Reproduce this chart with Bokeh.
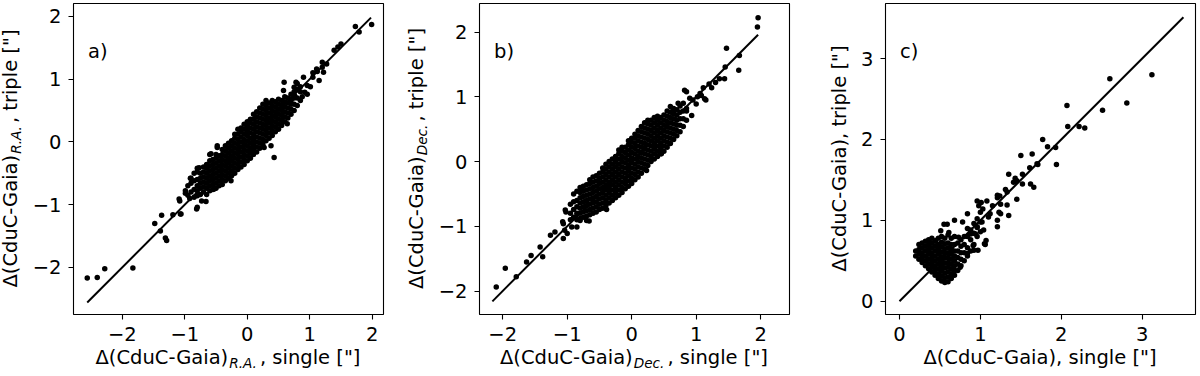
from bokeh.plotting import figure
from bokeh.models import Range1d, FixedTicker, Label, Div, Spacer
from bokeh.layouts import row, column
from bokeh.embed import file_html
from bokeh.resources import INLINE

# ---------------- data ----------------
ticks_ab = [-2, -1, 0, 1, 2]
ticks_c = [0, 1, 2, 3]
tick_labels_ab = ["\u22122", "\u22121", "0", "1", "2"]
tick_labels_c = ["0", "1", "2", "3"]

# panel a) R.A. : one-to-one line extent
ra_line = [-2.56, 1.98]
# panel a) scattered points (single, triple)
ra_outer = [(-2.56, -2.17), (-2.40, -2.16), (-2.28, -2.02), (-1.83, -2.01), (-1.48, -1.30),
            (-1.37, -1.17), (-1.39, -1.42), (-1.31, -1.53), (-1.29, -1.57), (-1.19, -1.16),
            (-1.06, -1.15), (-1.08, -0.94), (-0.99, -0.82), (-0.92, -0.90), (-0.81, -1.07),
            (-0.66, -0.95), (-0.73, -0.94), (-0.91, -0.58), (-0.60, -0.20), (-0.48, -0.09),
            (-0.26, -0.62), (0.27, -0.09), (0.43, -0.25), (0.58, 0.82), (0.59, 0.95),
            (0.78, 0.95), (0.90, 1.03), (0.92, 0.79), (1.01, 0.88), (1.05, 1.03), (1.11, 1.16),
            (1.20, 1.27), (1.20, 1.19), (1.22, 1.11), (1.15, 0.98), (1.39, 1.46), (1.45, 1.51),
            (1.50, 1.56), (1.73, 1.84), (1.79, 1.75), (1.99, 1.87), (0.76, 0.73), (0.70, 0.66),
            (0.80, 0.93), (0.96, 0.76), (0.96, 0.90), (0.08, -0.14), (-0.48, -0.06),
            (-0.58, -0.19), (-0.77, -0.41), (-0.53, -0.75), (-0.80, -1.04), (-1.07, -1.15),
            (-1.09, -0.91), (-0.99, -0.78), (0.64, 0.29), (0.38, -0.06), (1.27, 1.24),
            (1.05, 1.10), (1.12, 1.12), (0.85, 0.88), (0.88, 0.72), (0.75, 0.87)]
# panel a) dense core, column by column
ra_core_x = [-0.95, -0.90, -0.85, -0.80, -0.75, -0.70, -0.65, -0.60, -0.55, -0.50, -0.45,
             -0.40, -0.35, -0.30, -0.25, -0.20, -0.15, -0.10, -0.05, 0.00, 0.05, 0.10, 0.15,
             0.20, 0.25, 0.30, 0.35, 0.40, 0.45, 0.50, 0.55, 0.60, 0.65, 0.70, 0.75, 0.80, 0.85]
ra_core_y = [
    [-0.85, -0.70],
    [-0.80, -0.66, -0.58],
    [-0.88, -0.76, -0.62, -0.50],
    [-0.86, -0.78, -0.70, -0.60, -0.48, -0.42],
    [-0.84, -0.74, -0.66, -0.58, -0.50],
    [-0.80, -0.72, -0.64, -0.56, -0.48, -0.40],
    [-0.84, -0.74, -0.66, -0.58, -0.50, -0.42, -0.36],
    [-0.78, -0.70, -0.62, -0.54, -0.46, -0.38, -0.30],
    [-0.76, -0.68, -0.60, -0.52, -0.44, -0.36, -0.28],
    [-0.74, -0.66, -0.58, -0.50, -0.42, -0.34, -0.26, -0.20],
    [-0.70, -0.62, -0.54, -0.46, -0.38, -0.30, -0.22],
    [-0.68, -0.60, -0.52, -0.44, -0.36, -0.28, -0.20, -0.12],
    [-0.62, -0.54, -0.46, -0.38, -0.30, -0.22, -0.14, -0.06],
    [-0.58, -0.50, -0.42, -0.34, -0.26, -0.18, -0.10, -0.02],
    [-0.54, -0.46, -0.38, -0.30, -0.22, -0.14, -0.06, 0.02],
    [-0.50, -0.42, -0.34, -0.26, -0.18, -0.10, -0.02, 0.06, 0.12],
    [-0.44, -0.36, -0.28, -0.20, -0.12, -0.04, 0.04, 0.12, 0.20],
    [-0.40, -0.32, -0.24, -0.16, -0.08, 0.00, 0.08, 0.16, 0.22],
    [-0.36, -0.28, -0.20, -0.12, -0.04, 0.04, 0.12, 0.20, 0.28],
    [-0.30, -0.22, -0.14, -0.06, 0.02, 0.10, 0.18, 0.26, 0.32],
    [-0.26, -0.18, -0.10, -0.02, 0.06, 0.14, 0.22, 0.30, 0.36],
    [-0.20, -0.12, -0.04, 0.04, 0.12, 0.20, 0.28, 0.36, 0.44],
    [-0.16, -0.08, 0.00, 0.08, 0.16, 0.24, 0.32, 0.40, 0.48],
    [-0.10, -0.02, 0.06, 0.14, 0.22, 0.30, 0.38, 0.46, 0.54],
    [-0.04, 0.04, 0.12, 0.20, 0.28, 0.36, 0.44, 0.52, 0.60],
    [0.02, 0.10, 0.18, 0.26, 0.34, 0.42, 0.50, 0.58, 0.66],
    [0.06, 0.14, 0.22, 0.30, 0.38, 0.46, 0.54, 0.62],
    [0.10, 0.18, 0.26, 0.34, 0.42, 0.50, 0.58, 0.66],
    [0.16, 0.24, 0.32, 0.40, 0.48, 0.56, 0.64],
    [0.20, 0.28, 0.36, 0.44, 0.52, 0.60, 0.68],
    [0.26, 0.34, 0.42, 0.50, 0.58, 0.66],
    [0.32, 0.40, 0.48, 0.56, 0.64, 0.72],
    [0.38, 0.46, 0.54, 0.62, 0.70],
    [0.44, 0.52, 0.60, 0.68, 0.76],
    [0.50, 0.60, 0.70, 0.80],
    [0.58, 0.70, 0.84],
    [0.66, 0.80],
]

# panel b) Dec.
dec_line = [-2.16, 1.96]
dec_outer = [(1.96, 2.22), (1.95, 2.08), (1.47, 1.75), (1.44, 1.28), (1.45, 1.46), (1.66, 1.41),
             (1.67, 1.64), (1.36, 1.28), (1.24, 1.14), (1.11, 1.14), (1.08, 1.02), (0.95, 0.95),
             (1.15, 0.95), (0.82, 1.10), (0.85, 1.08), (0.93, 0.71), (0.85, 0.82), (0.64, 0.79),
             (-2.10, -1.94), (-1.96, -1.65), (-1.79, -1.78), (-1.63, -1.55), (-1.56, -1.45),
             (-1.42, -1.32), (-1.38, -1.47), (-1.26, -1.14), (-1.19, -1.09), (-1.06, -1.19),
             (-1.04, -1.06), (-1.07, -0.93), (-1.02, -0.78), (-0.88, -0.86), (-0.80, -0.91),
             (-0.93, -1.01), (-0.66, -0.92), (-0.39, -0.74), (-0.77, -0.44), (1.06, 1.05),
             (1.13, 0.97), (1.00, 0.89), (0.46, 0.12), (0.23, -0.14), (-0.70, -0.91),
             (-1.03, -0.75), (-1.06, -0.96), (-1.00, -1.11), (-0.85, -1.01), (1.02, 1.00),
             (0.90, 0.98), (1.20, 1.20), (1.30, 1.22), (0.72, 0.90), (0.60, 0.85)]
dec_core_x = [-0.95, -0.90, -0.85, -0.80, -0.75, -0.70, -0.65, -0.60, -0.55, -0.50, -0.45,
              -0.40, -0.35, -0.30, -0.25, -0.20, -0.15, -0.10, -0.05, 0.00, 0.05, 0.10, 0.15,
              0.20, 0.25, 0.30, 0.35, 0.40, 0.45, 0.50, 0.55, 0.60, 0.65, 0.70, 0.75, 0.80, 0.85]
dec_core_y = [
    [-0.90, -0.80, -0.66],
    [-0.86, -0.74, -0.62, -0.50],
    [-0.90, -0.80, -0.70, -0.60, -0.46],
    [-0.88, -0.80, -0.72, -0.64, -0.56, -0.48, -0.40],
    [-0.86, -0.78, -0.70, -0.62, -0.54, -0.46, -0.38],
    [-0.84, -0.76, -0.68, -0.60, -0.52, -0.44, -0.36],
    [-0.82, -0.74, -0.66, -0.58, -0.50, -0.42, -0.34, -0.28],
    [-0.80, -0.72, -0.64, -0.56, -0.48, -0.40, -0.32, -0.24],
    [-0.78, -0.70, -0.62, -0.54, -0.46, -0.38, -0.30, -0.22],
    [-0.74, -0.66, -0.58, -0.50, -0.42, -0.34, -0.26, -0.18],
    [-0.72, -0.64, -0.56, -0.48, -0.40, -0.32, -0.24, -0.16, -0.10],
    [-0.68, -0.60, -0.52, -0.44, -0.36, -0.28, -0.20, -0.12, -0.04],
    [-0.64, -0.56, -0.48, -0.40, -0.32, -0.24, -0.16, -0.08, 0.00],
    [-0.60, -0.52, -0.44, -0.36, -0.28, -0.20, -0.12, -0.04, 0.04],
    [-0.56, -0.48, -0.40, -0.32, -0.24, -0.16, -0.08, 0.00, 0.08],
    [-0.52, -0.44, -0.36, -0.28, -0.20, -0.12, -0.04, 0.04, 0.12, 0.18],
    [-0.48, -0.40, -0.32, -0.24, -0.16, -0.08, 0.00, 0.08, 0.16, 0.22],
    [-0.42, -0.34, -0.26, -0.18, -0.10, -0.02, 0.06, 0.14, 0.22],
    [-0.38, -0.30, -0.22, -0.14, -0.06, 0.02, 0.10, 0.18, 0.26, 0.32],
    [-0.34, -0.26, -0.18, -0.10, -0.02, 0.06, 0.14, 0.22, 0.30, 0.36],
    [-0.28, -0.20, -0.12, -0.04, 0.04, 0.12, 0.20, 0.28, 0.36, 0.42],
    [-0.24, -0.16, -0.08, 0.00, 0.08, 0.16, 0.24, 0.32, 0.40, 0.48],
    [-0.18, -0.10, -0.02, 0.06, 0.14, 0.22, 0.30, 0.38, 0.46, 0.54],
    [-0.12, -0.04, 0.04, 0.12, 0.20, 0.28, 0.36, 0.44, 0.52, 0.60],
    [-0.06, 0.02, 0.10, 0.18, 0.26, 0.34, 0.42, 0.50, 0.58, 0.64],
    [0.00, 0.08, 0.16, 0.24, 0.32, 0.40, 0.48, 0.56, 0.64],
    [0.04, 0.12, 0.20, 0.28, 0.36, 0.44, 0.52, 0.60, 0.68],
    [0.08, 0.16, 0.24, 0.32, 0.40, 0.48, 0.56, 0.64, 0.70],
    [0.12, 0.20, 0.28, 0.36, 0.44, 0.52, 0.60, 0.68],
    [0.16, 0.24, 0.32, 0.40, 0.48, 0.56, 0.64, 0.72],
    [0.22, 0.30, 0.38, 0.46, 0.54, 0.62, 0.70, 0.78],
    [0.28, 0.36, 0.44, 0.52, 0.60, 0.68, 0.76],
    [0.34, 0.42, 0.50, 0.58, 0.66, 0.74, 0.82],
    [0.40, 0.48, 0.56, 0.64, 0.72, 0.80],
    [0.46, 0.56, 0.66, 0.76, 0.86],
    [0.54, 0.66, 0.78, 0.90],
    [0.64, 0.78],
]

# panel c) total offset
tot_line = [0.0, 3.51]
tot_outer = [(3.12, 2.80), (2.60, 2.75), (2.81, 2.45), (2.51, 2.36), (2.29, 2.14), (2.22, 2.16),
             (2.08, 2.16), (2.07, 2.42), (1.94, 1.69), (1.93, 1.90), (1.83, 1.91), (1.77, 2.00),
             (1.71, 1.69), (1.64, 1.82), (1.50, 1.80), (1.61, 1.65), (1.66, 1.41), (1.62, 1.45),
             (1.52, 1.57), (1.45, 1.26), (1.41, 1.47), (1.35, 1.57), (1.43, 1.52), (1.52, 1.45),
             (1.31, 1.38), (1.21, 1.28), (1.24, 1.30), (1.33, 1.19), (1.23, 1.10), (1.35, 1.06),
             (1.21, 0.92), (1.07, 0.75), (1.06, 0.70), (1.04, 0.88), (0.68, 1.00), (0.59, 0.95),
             (0.84, 1.08), (0.96, 1.24), (1.01, 1.22), (0.55, 0.95), (0.45, 0.75), (0.51, 0.87),
             (0.96, 0.91), (0.88, 0.83), (1.02, 0.98), (0.92, 0.63), (0.84, 0.59), (0.75, 0.42),
             (1.08, 1.24), (1.15, 1.18), (1.03, 1.14), (1.12, 1.08), (1.25, 1.20), (0.91, 0.69),
             (0.97, 0.63), (1.05, 0.71), (1.21, 1.00), (1.25, 1.08), (1.45, 1.49), (1.33, 1.35),
             (1.70, 1.70), (1.10, 1.04), (0.98, 1.18), (0.94, 0.83), (0.78, 0.98), (0.61, 0.85),
             (0.73, 0.79), (1.21, 1.31)]
tot_core_x = [0.20, 0.24, 0.28, 0.32, 0.36, 0.40, 0.44, 0.48, 0.52, 0.56, 0.60, 0.64, 0.68,
              0.72, 0.76, 0.80, 0.84, 0.88, 0.92, 0.96, 1.00]
tot_core_y = [
    [0.56, 0.62],
    [0.52, 0.58, 0.64, 0.70],
    [0.48, 0.54, 0.60, 0.66, 0.72],
    [0.44, 0.50, 0.56, 0.62, 0.68, 0.74],
    [0.40, 0.46, 0.52, 0.58, 0.64, 0.70, 0.76],
    [0.36, 0.42, 0.48, 0.54, 0.60, 0.66, 0.72, 0.78],
    [0.32, 0.38, 0.44, 0.50, 0.56, 0.62, 0.68, 0.74],
    [0.28, 0.34, 0.40, 0.46, 0.52, 0.58, 0.64, 0.70, 0.78],
    [0.25, 0.31, 0.37, 0.43, 0.49, 0.55, 0.61, 0.67, 0.73, 0.80],
    [0.23, 0.29, 0.35, 0.41, 0.47, 0.53, 0.59, 0.65, 0.71, 0.78],
    [0.24, 0.30, 0.36, 0.42, 0.48, 0.54, 0.60, 0.66, 0.72, 0.82],
    [0.28, 0.34, 0.40, 0.46, 0.52, 0.58, 0.64, 0.70, 0.78],
    [0.32, 0.38, 0.44, 0.50, 0.56, 0.62, 0.70, 0.80],
    [0.38, 0.46, 0.54, 0.62, 0.72],
    [0.44, 0.52, 0.60, 0.68, 0.76],
    [0.50, 0.60, 0.70, 0.80],
    [0.56, 0.66, 0.80, 0.90],
    [0.62, 0.76, 0.88],
    [0.70, 0.84, 0.96],
    [0.80, 0.92, 1.02],
    [0.86, 0.98, 1.10],
]

# axis-label pieces
label_main = "\u0394(CduC-Gaia)"
sub_a = "R.A."
sub_b = "Dec."
x_rest = ', single ["]'
y_rest = ', triple ["]'

# ---------------- styling ----------------
FONT = "DejaVu Sans"
FS = 19.5      # main text size, px
SFS = 13.65    # subscript size, px
FW, FH = 310, 311
TOP = 3        # frame top offset in page px
BOTTOM = 36    # space below frame inside figure
LH = 16.5      # line-height used for html labels (baseline 15px below line top)
YDW = 24       # width of y-label div


def collect(outer, cx, cy):
    xs = [p[0] for p in outer]
    ys = [p[1] for p in outer]
    for x, col in zip(cx, cy):
        for y in col:
            xs.append(x)
            ys.append(y)
    return xs, ys


def label_html(sub, rest):
    s = label_main
    if sub:
        s += (f'<span style="font-size:{SFS}px;font-style:italic;position:relative;'
              f'top:4px;margin-left:1px;margin-right:3px">{sub}</span>')
    return s + rest


TXT = (f"font-family:'{FONT}';font-size:{FS}px;color:#000;white-space:nowrap;"
       f"line-height:{LH}px;text-align:center;")


def xlabel_div(sub):
    html = f'<div style="{TXT}width:{FW}px">{label_html(sub, x_rest)}</div>'
    return Div(text=html, width=FW, height=24, margin=0)


def ylabel_div(sub, shift):
    # shift = x (inside div) of the top of the rotated line box
    html = (f'<div style="{TXT}position:absolute;left:0;top:0;width:{FH}px;'
            f'transform-origin:0 0;transform:translate({shift}px,{FH}px) rotate(-90deg)">'
            f'{label_html(sub, y_rest)}</div>')
    return Div(text=html, width=YDW, height=FH, margin=(TOP, 0, 0, 0),
               styles={"position": "relative", "overflow": "visible"})


def make_panel(xr, yr, ticks, tick_labels, line, pts, letter, left_border, right_border):
    p = figure(frame_width=FW, frame_height=FH, x_range=Range1d(*xr), y_range=Range1d(*yr),
               output_backend="svg", toolbar_location=None,
               min_border_left=left_border, min_border_right=right_border,
               min_border_top=TOP, min_border_bottom=BOTTOM)
    p.grid.visible = False
    p.background_fill_color = "white"
    p.border_fill_color = "white"
    p.outline_line_color = "black"
    p.outline_line_width = 1.1
    p.outline_line_alpha = 1.0
    overrides = {t: s for t, s in zip(ticks, tick_labels)}
    for ax in (p.xaxis[0], p.yaxis[0]):
        ax.ticker = FixedTicker(ticks=ticks)
        ax.major_label_overrides = overrides
        ax.minor_tick_line_color = None
        ax.major_tick_in = 0
        ax.major_tick_out = 5
        ax.major_tick_line_width = 1.1
        ax.major_tick_line_color = "black"
        ax.axis_line_color = None
        ax.major_label_text_font = FONT
        ax.major_label_text_font_size = f"{FS}px"
        ax.major_label_text_color = "black"
    p.xaxis.major_label_standoff = 7
    p.yaxis.major_label_standoff = 7

    p.line(line, line, line_color="black", line_width=2)
    xs, ys = pts
    p.scatter(xs, ys, size=5.5, fill_color="black", line_color=None)

    p.add_layout(Label(x=14.5, y=FH - 47.7, x_units="screen", y_units="screen", text=letter,
                       text_font=FONT, text_font_size=f"{FS}px", text_color="black",
                       text_baseline="alphabetic"))
    return p


# page x positions: frames at 73, 479, 885; y-label divs at 0, 404, 828
pa = make_panel((-2.78, 2.18), (-2.75, 2.205), ticks_ab, tick_labels_ab, ra_line,
                collect(ra_outer, ra_core_x, ra_core_y), "a)", 49, 21)
pb = make_panel((-2.36, 2.447), (-2.363, 2.442), ticks_ab, tick_labels_ab, dec_line,
                collect(dec_outer, dec_core_x, dec_core_y), "b)", 51, 39)
pc = make_panel((-0.173, 3.659), (-0.164, 3.68), ticks_c, tick_labels_c, tot_line,
                collect(tot_outer, tot_core_x, tot_core_y), "c)", 33, 4)

ya = ylabel_div(sub_a, (73 - 55) - 15 - 0)
yb = ylabel_div(sub_b, (479 - 55) - 15 - 404)
yc = ylabel_div(None, (885 - 38.3) - 15 - 828)

top = row(ya, pa, yb, pb, yc, pc, margin=0)
bottom = row(Spacer(width=73, height=24, margin=0), xlabel_div(sub_a),
             Spacer(width=96, height=24, margin=0), xlabel_div(sub_b),
             Spacer(width=96, height=24, margin=0), xlabel_div(None), margin=0)
layout = column(top, bottom, margin=0)

open("out.html", "w").write(file_html(layout, INLINE))
